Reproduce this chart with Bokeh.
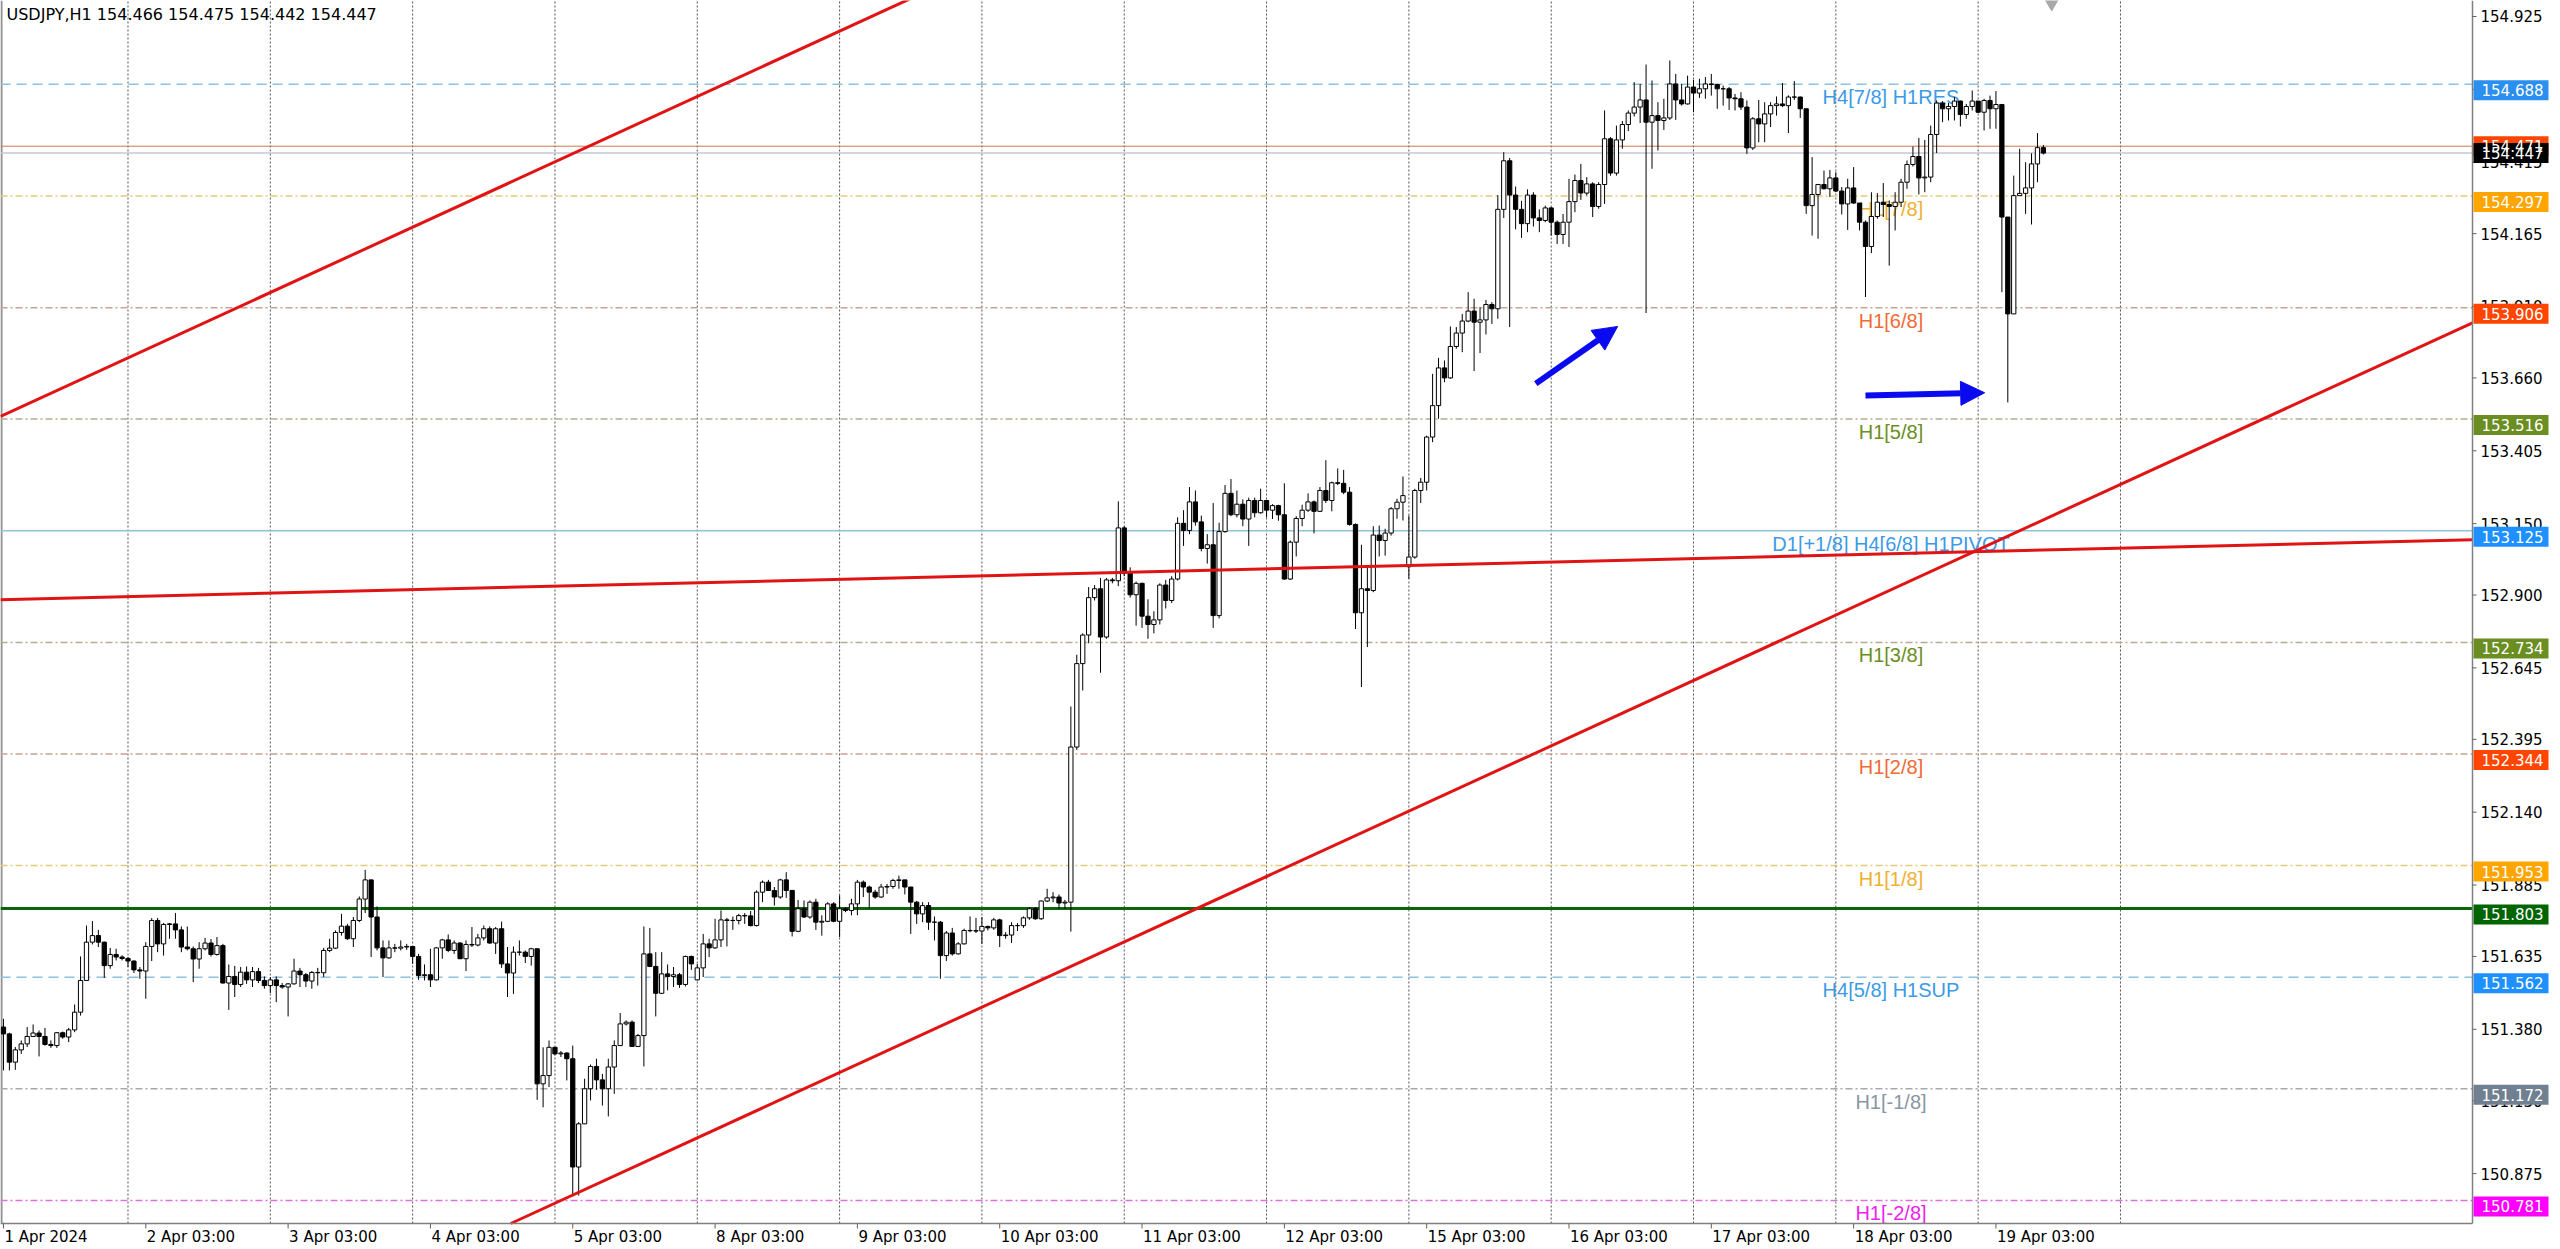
from bokeh.plotting import figure
from bokeh.models import Arrow, NormalHead, Range1d
from bokeh.embed import file_html
from bokeh.resources import INLINE
from bokeh.core.properties import value

# ---------------- data (USDJPY H1, bar 0 = 1 Apr 03:00) ----------------
first_open = 151.388
gap_bars = [117, 237]
gap_opens = [151.553, 152.999]

close = [
151.364, 151.265, 151.308, 151.329, 151.355, 151.367, 151.355, 151.327, 151.323, 151.368,
151.353, 151.378, 151.440, 151.551, 151.685, 151.708, 151.685, 151.603, 151.642, 151.633,
151.628, 151.619, 151.588, 151.584, 151.670, 151.761, 151.679, 151.747, 151.749, 151.728,
151.668, 151.662, 151.626, 151.662, 151.682, 151.642, 151.673, 151.542, 151.565, 151.537,
151.580, 151.553, 151.582, 151.551, 151.533, 151.553, 151.533, 151.528, 151.539, 151.584,
151.571, 151.549, 151.579, 151.578, 151.656, 151.664, 151.719, 151.741, 151.697, 151.761,
151.836, 151.903, 151.773, 151.665, 151.630, 151.665, 151.664, 151.668, 151.670, 151.635,
151.568, 151.571, 151.553, 151.665, 151.693, 151.656, 151.682, 151.627, 151.677, 151.675,
151.700, 151.732, 151.682, 151.732, 151.609, 151.577, 151.650, 151.650, 151.635, 151.662,
151.189, 151.218, 151.317, 151.294, 151.297, 151.277, 150.898, 151.049, 151.172, 151.250,
151.203, 151.172, 151.248, 151.323, 151.399, 151.405, 151.320, 151.358, 151.644, 151.600,
151.506, 151.574, 151.565, 151.571, 151.537, 151.635, 151.609, 151.595, 151.679, 151.665,
151.693, 151.763, 151.761, 151.761, 151.778, 151.777, 151.743, 151.860, 151.895, 151.866,
151.843, 151.903, 151.866, 151.723, 151.802, 151.773, 151.825, 151.755, 151.758, 151.819,
151.758, 151.802, 151.796, 151.819, 151.895, 151.878, 151.860, 151.843, 151.878, 151.880,
151.901, 151.903, 151.878, 151.825, 151.784, 151.813, 151.755, 151.755, 151.638, 151.717,
151.644, 151.679, 151.726, 151.725, 151.724, 151.740, 151.735, 151.763, 151.708, 151.710,
151.743, 151.743, 151.770, 151.802, 151.767, 151.829, 151.840, 151.843, 151.822, 151.825,
152.368, 152.660, 152.760, 152.891, 152.922, 152.753, 152.953, 152.950, 153.135, 152.976,
152.901, 152.941, 152.826, 152.797, 152.813, 152.935, 152.881, 152.956, 153.151, 153.126,
153.226, 153.156, 153.063, 153.076, 152.828, 153.122, 153.256, 153.181, 153.218, 153.166,
153.231, 153.188, 153.231, 153.197, 153.213, 153.181, 152.956, 153.085, 153.168, 153.197,
153.226, 153.193, 153.266, 153.231, 153.293, 153.291, 153.260, 153.147, 152.838, 152.922,
152.916, 153.110, 153.091, 153.117, 153.202, 153.225, 153.248, 153.033, 153.266, 153.295,
153.453, 153.563, 153.695, 153.660, 153.770, 153.817, 153.859, 153.894, 153.855, 153.863,
153.917, 153.902, 154.250, 154.420, 154.300, 154.250, 154.200, 154.300, 154.220, 154.211,
154.255, 154.205, 154.162, 154.205, 154.277, 154.351, 154.307, 154.339, 154.260, 154.337,
154.497, 154.377, 154.493, 154.547, 154.587, 154.608, 154.633, 154.555, 154.578, 154.561,
154.570, 154.689, 154.633, 154.619, 154.678, 154.657, 154.672, 154.689, 154.687, 154.672,
154.672, 154.640, 154.637, 154.608, 154.465, 154.567, 154.549, 154.584, 154.613, 154.619,
154.613, 154.643, 154.643, 154.602, 154.263, 154.302, 154.337, 154.322, 154.360, 154.314,
154.269, 154.325, 154.272, 154.205, 154.120, 154.225, 154.275, 154.267, 154.260, 154.275,
154.345, 154.407, 154.435, 154.360, 154.363, 154.512, 154.622, 154.602, 154.610, 154.629,
154.582, 154.610, 154.629, 154.590, 154.631, 154.602, 154.617, 154.223, 153.884, 154.298,
154.306, 154.325, 154.409, 154.466, 154.447]

high = [
151.417, 151.368, 151.318, 151.341, 151.388, 151.397, 151.376, 151.385, 151.341, 151.370,
151.372, 151.385, 151.467, 151.635, 151.743, 151.759, 151.728, 151.687, 151.665, 151.662,
151.639, 151.633, 151.621, 151.598, 151.685, 151.769, 151.770, 151.752, 151.752, 151.787,
151.740, 151.740, 151.670, 151.685, 151.700, 151.696, 151.703, 151.679, 151.607, 151.602,
151.598, 151.600, 151.598, 151.595, 151.565, 151.563, 151.565, 151.542, 151.542, 151.627,
151.595, 151.577, 151.584, 151.595, 151.665, 151.697, 151.726, 151.784, 151.749, 151.773,
151.845, 151.938, 151.813, 151.810, 151.691, 151.691, 151.679, 151.691, 151.679, 151.668,
151.644, 151.607, 151.662, 151.668, 151.697, 151.712, 151.691, 151.685, 151.691, 151.738,
151.714, 151.743, 151.740, 151.738, 151.757, 151.668, 151.670, 151.691, 151.656, 151.665,
151.662, 151.317, 151.341, 151.317, 151.304, 151.300, 151.323, 151.055, 151.207, 151.257,
151.277, 151.224, 151.277, 151.341, 151.437, 151.411, 151.411, 151.364, 151.740, 151.735,
151.650, 151.650, 151.607, 151.598, 151.577, 151.638, 151.638, 151.609, 151.714, 151.697,
151.767, 151.796, 151.770, 151.775, 151.784, 151.787, 151.794, 151.866, 151.901, 151.903,
151.878, 151.907, 151.930, 151.868, 151.833, 151.831, 151.831, 151.837, 151.779, 151.825,
151.825, 151.849, 151.808, 151.837, 151.903, 151.901, 151.883, 151.868, 151.889, 151.889,
151.907, 151.918, 151.895, 151.878, 151.829, 151.825, 151.825, 151.775, 151.759, 151.724,
151.735, 151.685, 151.732, 151.775, 151.770, 151.773, 151.743, 151.770, 151.767, 151.720,
151.755, 151.752, 151.775, 151.808, 151.808, 151.831, 151.872, 151.860, 151.852, 151.833,
152.510, 152.691, 152.766, 152.928, 152.935, 152.960, 152.960, 152.960, 153.228, 153.141,
152.997, 152.947, 152.943, 152.885, 152.843, 152.941, 152.953, 152.966, 153.172, 153.197,
153.278, 153.266, 153.178, 153.113, 153.222, 153.153, 153.285, 153.306, 153.266, 153.235,
153.241, 153.241, 153.272, 153.222, 153.218, 153.216, 153.291, 153.091, 153.176, 153.216,
153.256, 153.231, 153.278, 153.372, 153.297, 153.343, 153.338, 153.278, 153.151, 153.076,
153.001, 153.141, 153.143, 153.132, 153.208, 153.237, 153.315, 153.178, 153.272, 153.310,
153.458, 153.674, 153.730, 153.721, 153.840, 153.838, 153.884, 153.960, 153.937, 153.908,
153.933, 153.925, 154.300, 154.450, 154.430, 154.330, 154.280, 154.320, 154.310, 154.250,
154.263, 154.258, 154.211, 154.234, 154.357, 154.372, 154.409, 154.363, 154.345, 154.345,
154.596, 154.503, 154.543, 154.559, 154.596, 154.695, 154.689, 154.757, 154.701, 154.625,
154.637, 154.771, 154.724, 154.689, 154.718, 154.703, 154.707, 154.713, 154.724, 154.689,
154.683, 154.678, 154.654, 154.660, 154.631, 154.573, 154.633, 154.625, 154.625, 154.645,
154.692, 154.649, 154.699, 154.645, 154.602, 154.433, 154.339, 154.386, 154.388, 154.380,
154.328, 154.357, 154.398, 154.272, 154.211, 154.310, 154.307, 154.342, 154.281, 154.310,
154.357, 154.421, 154.470, 154.500, 154.493, 154.543, 154.631, 154.629, 154.622, 154.643,
154.631, 154.619, 154.666, 154.617, 154.637, 154.648, 154.664, 154.619, 154.223, 154.368,
154.462, 154.415, 154.446, 154.517, 154.475]

low = [
151.236, 151.236, 151.238, 151.294, 151.318, 151.353, 151.285, 151.323, 151.315, 151.315,
151.347, 151.335, 151.370, 151.428, 151.574, 151.677, 151.668, 151.560, 151.592, 151.621,
151.621, 151.598, 151.577, 151.557, 151.487, 151.619, 151.650, 151.638, 151.697, 151.697,
151.650, 151.656, 151.545, 151.592, 151.656, 151.635, 151.638, 151.540, 151.448, 151.493,
151.528, 151.539, 151.528, 151.542, 151.522, 151.507, 151.475, 151.522, 151.425, 151.537,
151.528, 151.528, 151.522, 151.533, 151.563, 151.650, 151.661, 151.708, 151.693, 151.668,
151.755, 151.787, 151.633, 151.656, 151.563, 151.627, 151.650, 151.656, 151.658, 151.609,
151.553, 151.551, 151.528, 151.551, 151.627, 151.650, 151.644, 151.626, 151.584, 151.668,
151.670, 151.691, 151.679, 151.644, 151.595, 151.493, 151.504, 151.638, 151.612, 151.603,
151.133, 151.107, 151.178, 151.289, 151.283, 151.201, 150.795, 150.798, 151.049, 151.131,
151.168, 151.113, 151.075, 151.154, 151.323, 151.393, 151.318, 151.318, 151.250, 151.598,
151.425, 151.504, 151.516, 151.528, 151.525, 151.530, 151.588, 151.551, 151.563, 151.633,
151.662, 151.668, 151.670, 151.728, 151.747, 151.749, 151.740, 151.740, 151.825, 151.864,
151.813, 151.837, 151.840, 151.705, 151.720, 151.770, 151.767, 151.728, 151.708, 151.755,
151.755, 151.703, 151.790, 151.779, 151.779, 151.843, 151.802, 151.837, 151.840, 151.854,
151.872, 151.872, 151.852, 151.714, 151.749, 151.755, 151.728, 151.691, 151.557, 151.619,
151.638, 151.642, 151.677, 151.720, 151.717, 151.679, 151.726, 151.728, 151.668, 151.697,
151.682, 151.724, 151.735, 151.763, 151.763, 151.763, 151.825, 151.825, 151.802, 151.802,
151.722, 152.358, 152.566, 152.731, 152.881, 152.628, 152.747, 152.941, 152.931, 152.966,
152.891, 152.793, 152.785, 152.747, 152.766, 152.797, 152.853, 152.872, 152.951, 153.072,
153.113, 153.143, 153.053, 153.010, 152.785, 152.818, 153.118, 153.176, 153.172, 153.141,
153.072, 153.172, 153.185, 153.172, 153.166, 153.160, 152.953, 152.953, 153.035, 153.141,
153.191, 153.116, 153.191, 153.222, 153.193, 153.285, 153.253, 153.143, 152.781, 152.578,
152.718, 152.910, 153.035, 153.038, 153.108, 153.167, 153.161, 152.957, 153.027, 153.222,
153.266, 153.435, 153.517, 153.645, 153.657, 153.762, 153.750, 153.855, 153.684, 153.747,
153.812, 153.849, 153.867, 154.220, 153.838, 154.180, 154.150, 154.170, 154.190, 154.170,
154.205, 154.158, 154.129, 154.129, 154.118, 154.240, 154.283, 154.298, 154.223, 154.252,
154.269, 154.368, 154.368, 154.462, 154.524, 154.575, 154.552, 153.887, 154.392, 154.456,
154.528, 154.563, 154.563, 154.613, 154.617, 154.590, 154.640, 154.637, 154.648, 154.602,
154.613, 154.598, 154.596, 154.598, 154.444, 154.458, 154.485, 154.485, 154.538, 154.578,
154.608, 154.517, 154.633, 154.570, 154.234, 154.158, 154.147, 154.320, 154.293, 154.310,
154.232, 154.178, 154.270, 154.176, 153.943, 154.097, 154.217, 154.223, 154.053, 154.176,
154.258, 154.322, 154.400, 154.302, 154.310, 154.345, 154.447, 154.555, 154.561, 154.561,
154.540, 154.567, 154.596, 154.587, 154.526, 154.532, 154.532, 153.960, 153.574, 153.884,
154.298, 154.234, 154.197, 154.345, 154.442]

# time axis (bar index -> label)
label_bars = [0, 24, 48, 72, 96, 120, 144, 168, 192, 216, 240, 264, 288, 312, 336]
label_texts = ["1 Apr 2024", "2 Apr 03:00", "3 Apr 03:00", "4 Apr 03:00", "5 Apr 03:00",
               "8 Apr 03:00", "9 Apr 03:00", "10 Apr 03:00", "11 Apr 03:00", "12 Apr 03:00",
               "15 Apr 03:00", "16 Apr 03:00", "17 Apr 03:00", "18 Apr 03:00", "19 Apr 03:00"]
grid_bars = [21, 45, 69, 93, 117, 141, 165, 189, 213, 237, 261, 285, 309, 333, 357]

price_ticks = [154.925, 154.670, 154.415, 154.165, 153.910, 153.660, 153.405, 153.150,
               152.900, 152.645, 152.395, 152.140, 151.885, 151.635, 151.380, 151.130, 150.875]

# Murrey levels
level_prices = [154.688, 154.297, 153.906, 153.516, 153.125, 152.734, 152.344, 151.953,
                151.562, 151.172, 150.781]
level_names = ["H4[7/8] H1RES", "H1[7/8]", "H1[6/8]", "H1[5/8]", "D1[+1/8] H4[6/8] H1PIVOT",
               "H1[3/8]", "H1[2/8]", "H1[1/8]", "H4[5/8] H1SUP", "H1[-1/8]", "H1[-2/8]"]
level_line_colors = ["#8fc0dc", "#e6c97a", "#c9a391", "#b3ad8f", "#8ec3dc", "#b3ad8f",
                     "#c9a391", "#e6c97a", "#8fc0dc", "#a8a8b0", "#e070e0"]
level_dashes = ["10 6", "7 3 2 3", "7 3 2 3", "7 3 2 3", "solid", "7 3 2 3", "7 3 2 3",
                "7 3 2 3", "10 6", "7 3 2 3", "7 3 2 3"]
level_text_colors = ["#3c9ae6", "#efb030", "#f06a35", "#6b8e23", "#3c9ae6", "#6b8e23",
                     "#f06a35", "#efb030", "#3c9ae6", "#8a96a3", "#ee22ee"]
level_box_colors = ["#2b8ff0", "#ffa500", "#ff4500", "#6b8e23", "#1e90ff", "#6b8e23",
                    "#ff4500", "#ffa500", "#1e90ff", "#708090", "#ff00ff"]

support_price = 151.803
prev_level_price = 154.471
bid_price = 154.447

# trend lines: (gradient per bar, price at bar 0)
trend_gradients = [0.00953, 0.000504, 0.00953]
trend_intercepts = [153.530, 152.884, 149.885]

# arrows (bar, price)
arrow_starts = [(258.4, 153.640), (314.0, 153.598)]
arrow_ends = [(272.2, 153.840), (334.1, 153.608)]

title_text = "USDJPY,H1  154.466 154.475 154.442 154.447"

# ---------------- build ----------------
n = min(len(close), len(high), len(low))
close, high, low = close[:n], high[:n], low[:n]
opens = [first_open] + close[:n - 1]
for b, o in zip(gap_bars, gap_opens):
    opens[b] = o
bars = list(range(n))
body_top = [max(o, c) for o, c in zip(opens, close)]
body_bot = [min(o, c) for o, c in zip(opens, close)]
body_fill = ["white" if c >= o else "black" for o, c in zip(opens, close)]
hi = [max(h, o, c) for h, o, c in zip(high, opens, close)]
lo = [min(l, o, c) for l, o, c in zip(low, opens, close)]

W, H = 2560, 1249
XS = 5.93            # px per bar
YS = 285.7           # px per yen
X0 = -0.5
X1 = X0 + W / XS
AXIS_X = X0 + 2472 / XS          # price scale starts here
Y1 = 154.981
AXIS_Y = Y1 - 1223 / YS          # time scale starts here
Y0 = Y1 - H / YS

p = figure(width=W, height=H, x_range=Range1d(X0, X1), y_range=Range1d(Y0, Y1),
           output_backend="svg", toolbar_location=None, x_axis_location=None,
           y_axis_location=None, title=None, min_border=0, outline_line_color=None,
           background_fill_color="white", border_fill_color="white")
p.grid.grid_line_color = None

AX_FONT = "DejaVu Sans"

# vertical day grid
ng = len(grid_bars)
p.segment(x0=grid_bars, y0=[AXIS_Y] * ng, x1=grid_bars, y1=[Y1] * ng,
          line_color="#505050", line_dash="2 2", line_width=1)

# left frame border
p.segment(x0=[X0 + 1 / XS], y0=[AXIS_Y], x1=[X0 + 1 / XS], y1=[Y1], line_color="#909090",
          line_width=2)

# level lines (ending at the price scale)
nl = len(level_prices)
for pr, col, dash in zip(level_prices, level_line_colors, level_dashes):
    p.segment(x0=[X0], y0=[pr], x1=[AXIS_X], y1=[pr], line_color=col, line_dash=dash,
              line_width=1.5)
p.segment(x0=[X0], y0=[prev_level_price], x1=[AXIS_X], y1=[prev_level_price],
          line_color="#cd7850", line_width=1)
p.segment(x0=[X0], y0=[bid_price], x1=[AXIS_X], y1=[bid_price],
          line_color="#c4c8d4", line_width=1.5)
p.segment(x0=[X0], y0=[support_price], x1=[AXIS_X], y1=[support_price],
          line_color="#0b650b", line_width=3)

# level text labels (behind candles)
p.text(x=[318.3] * nl, y=level_prices, text=level_names,
       text_color=level_text_colors, text_font=value("Liberation Sans"),
       text_font_size="20px", text_align="center", text_baseline="top", y_offset=2)

# candles
p.segment(x0=bars, y0=lo, x1=bars, y1=hi, line_color="black", line_width=1)
p.vbar(x=bars, width=0.72, top=body_top, bottom=body_bot, fill_color=body_fill,
       line_color="black", line_width=1)

# trend lines, from where they enter the chart to the price scale
tx0, ty0, tx1, ty1 = [], [], [], []
for g, b in zip(trend_gradients, trend_intercepts):
    xa = max(X0, (AXIS_Y - b) / g) if g > 0 else X0
    tx0.append(xa)
    ty0.append(b + g * xa)
    tx1.append(AXIS_X)
    ty1.append(b + g * AXIS_X)
p.segment(x0=tx0, y0=ty0, x1=tx1, y1=ty1, line_color="#e01414", line_width=3)

# arrows
for (xs, ys), (xe, ye) in zip(arrow_starts, arrow_ends):
    p.add_layout(Arrow(x_start=xs, y_start=ys, x_end=xe, y_end=ye, line_color="#0a0af0",
                       line_width=6,
                       end=NormalHead(size=24, fill_color="#0a0af0", line_color="#0a0af0")))

# shift marker
p.scatter(x=[345.4], y=[Y1], marker="inverted_triangle", size=18, color="#a8a8a8")

# ---- time scale (bottom) ----
p.segment(x0=[X0], y0=[AXIS_Y], x1=[AXIS_X], y1=[AXIS_Y], line_color="#808080",
          line_width=1.5)
nx = len(label_bars)
p.segment(x0=label_bars, y0=[AXIS_Y] * nx, x1=label_bars, y1=[AXIS_Y - 5 / YS] * nx,
          line_color="#606060", line_width=1)
p.text(x=label_bars, y=[AXIS_Y - 4 / YS] * nx, text=label_texts, x_offset=1,
       text_color="black", text_font=value(AX_FONT), text_font_size="15px",
       text_baseline="top", text_align="left")

# ---- price scale (right) ----
p.segment(x0=[AXIS_X], y0=[AXIS_Y], x1=[AXIS_X], y1=[Y1], line_color="#808080",
          line_width=1.5)
nt = len(price_ticks)
p.segment(x0=[AXIS_X] * nt, y0=price_ticks, x1=[AXIS_X + 4 / XS] * nt, y1=price_ticks,
          line_color="#606060", line_width=1)
p.text(x=[AXIS_X + 8 / XS] * nt, y=price_ticks, text=[f"{t:.3f}" for t in price_ticks],
       text_color="black", text_font=value(AX_FONT), text_font_size="15px",
       text_baseline="middle", text_align="left")

# price boxes: Murrey levels + support sit slightly below their line, bid/prev centred
box_prices = level_prices + [support_price, prev_level_price, bid_price]
box_colors = level_box_colors + ["#006400", "#ff4500", "#000000"]
box_shift = [6] * (nl + 1) + [0, 0]
box_y = [pr - s / YS for pr, s in zip(box_prices, box_shift)]
nb = len(box_prices)
p.rect(x=[AXIS_X + 38.5 / XS] * nb, y=box_y, width=75, height=20, width_units="screen",
       height_units="screen", fill_color=box_colors, line_color=None)
p.text(x=[AXIS_X + 9 / XS] * nb, y=box_y, text=[f"{v:.3f}" for v in box_prices],
       text_color="white", text_font=value(AX_FONT), text_font_size="15px",
       text_baseline="middle", text_align="left")

# title (top-left)
p.text(x=[X0 + 6 / XS], y=[Y1 - 4 / YS], text=[title_text], text_color="black",
       text_font=value(AX_FONT), text_font_size="16px", text_baseline="top",
       text_align="left")

open("out.html", "w").write(file_html(p, INLINE))
